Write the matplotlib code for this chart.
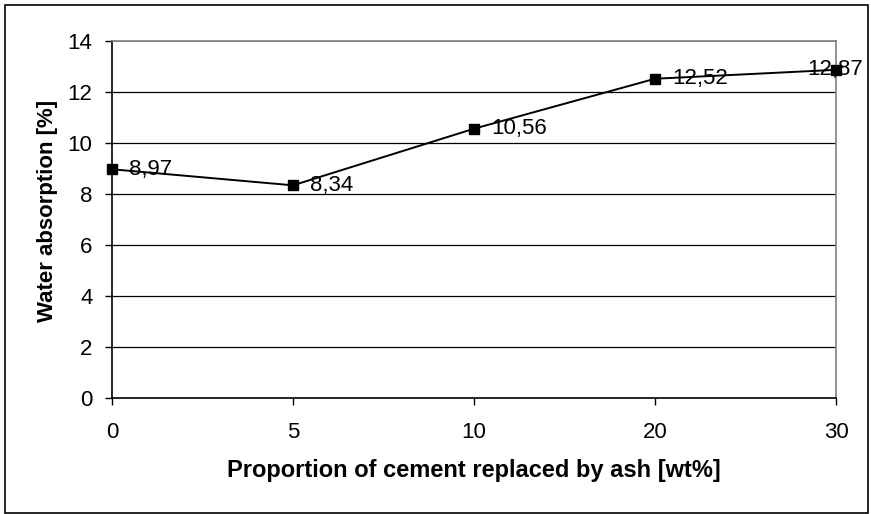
import matplotlib
matplotlib.use("Agg")
import matplotlib.pyplot as plt
from matplotlib.patches import Rectangle

categories = ["0", "5", "10", "20", "30"]
absorption = [8.97, 8.34, 10.56, 12.52, 12.87]
value_labels = ["8,97", "8,34", "10,56", "12,52", "12,87"]
y_ticks = [0, 2, 4, 6, 8, 10, 12, 14]

plt.rcParams["font.family"] = ["Liberation Sans", "DejaVu Sans"]

W, H, DPI = 871, 514, 100
fig = plt.figure(figsize=(W / DPI, H / DPI), dpi=DPI)
ax = fig.add_axes([112 / W, 1 - 398 / H, (836 - 112) / W, (398 - 41) / H])

# outer chart border
fig.patches.append(Rectangle((4.5 / W, 1.5 / H), (868 - 4.5) / W, (509 - 1.5) / H,
                             transform=fig.transFigure, fill=False,
                             edgecolor="black", linewidth=1.2))

x = list(range(len(categories)))
ax.plot(x, absorption, color="black", linewidth=1.4, marker="s",
        markersize=7.5, markerfacecolor="black", markeredgecolor="black",
        clip_on=False, zorder=5)

for i, (v, lab) in enumerate(zip(absorption, value_labels)):
    if i == len(absorption) - 1:
        ax.annotate(lab, (i, v), xytext=(19.5, 0), textcoords="offset points",
                    ha="right", va="center", fontsize=16, color="black", zorder=6)
    else:
        ax.annotate(lab, (i, v), xytext=(12.5, 0), textcoords="offset points",
                    ha="left", va="center", fontsize=16, color="black", zorder=6)

ax.set_xlim(0, len(categories) - 1)
ax.set_ylim(0, 14)
ax.set_xticks(x)
ax.set_xticklabels(categories)
ax.set_yticks(y_ticks)
ax.tick_params(axis="both", labelsize=16, direction="out", length=5,
               width=1, color="black", pad=9)
ax.tick_params(axis="x", pad=12)

for yv in y_ticks[1:-1]:
    ax.axhline(yv, color="black", linewidth=0.9, zorder=1)
ax.axhline(14, color="#808080", linewidth=1.2, zorder=1)

ax.spines["left"].set_color("black")
ax.spines["bottom"].set_color("black")
ax.spines["top"].set_color("#808080")
ax.spines["right"].set_color("#808080")
for s in ax.spines.values():
    s.set_linewidth(1.2)

ax.set_xlabel("Proportion of cement replaced by ash [wt%]", fontsize=17,
              fontweight="bold", labelpad=12)
ax.set_ylabel("Water absorption [%]", fontsize=16, fontweight="bold")
ax.yaxis.set_label_coords(-0.074, 0.524)

fig.savefig("out.png", dpi=DPI)
